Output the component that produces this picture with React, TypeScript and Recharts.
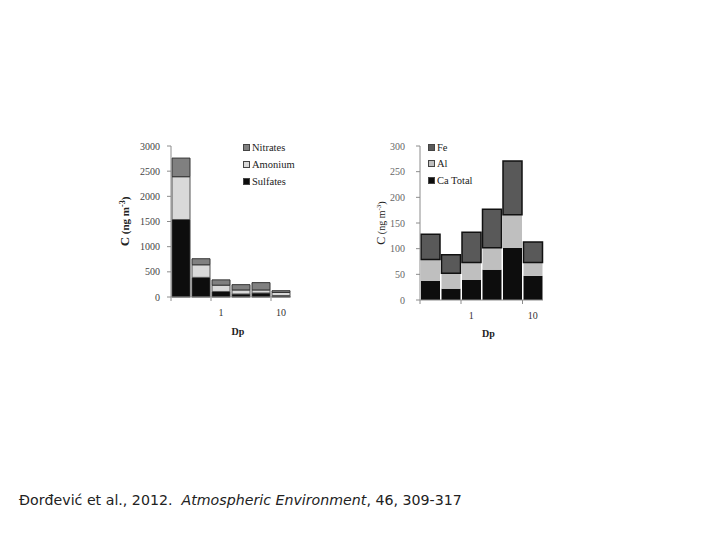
import { Bar, BarChart, XAxis, YAxis } from "recharts";

// size bins (Dp) — labels only shown at 1 and 10
const bins = ["b1", "b2", "b3", "b4", "b5", "b6"];
const binLabels = ["", "", "1", "", "", "10"];
const binMarks = [true, false, true, false, false, true];

// left panel: ions, ng m-3
const sulfates = [1540, 390, 110, 60, 80, 30];
const amonium = [850, 250, 125, 80, 60, 60];
const nitrates = [370, 120, 105, 105, 145, 35];
const ionTicks = [0, 500, 1000, 1500, 2000, 2500, 3000];

// right panel: crustal elements, ng m-3
const caTotal = [37, 22, 39, 59, 102, 47];
const al = [42, 30, 34, 43, 64, 26];
const fe = [49, 36, 59, 75, 105, 40];
const metalTicks = [0, 50, 100, 150, 200, 250, 300];

const ionData = bins.map((bin, i) => ({
  bin,
  sulfates: sulfates[i],
  amonium: amonium[i],
  nitrates: nitrates[i],
}));

const metalData = bins.map((bin, i) => ({
  bin,
  ca: caTotal[i],
  al: al[i],
  fe: fe[i],
}));

const serif = "'Liberation Serif', 'DejaVu Serif', serif";

function makeTick(halfBand: number) {
  return function BinTick(props: any) {
    const { x, y, payload } = props;
    const i = payload.index;
    return (
      <g>
        {binMarks[i] && (
          <line x1={x - halfBand} x2={x - halfBand} y1={y} y2={y + 4} stroke="#8c8c8c" />
        )}
        {binLabels[i] && (
          <text x={x} y={y + 19} textAnchor="middle" fontFamily={serif} fontSize={10} fill="#333">
            {binLabels[i]}
          </text>
        )}
      </g>
    );
  };
}

function YLabel({ viewBox, dx, bold, size }: any) {
  const cx = viewBox.x + dx;
  const cy = viewBox.y + viewBox.height / 2;
  return (
    <text
      x={cx}
      y={cy}
      transform={`rotate(-90 ${cx} ${cy})`}
      textAnchor="middle"
      fontFamily={serif}
      fontSize={size}
      fontWeight={bold ? "bold" : "normal"}
      fill="#222"
    >
      <tspan fontSize={size + 2}>C</tspan> (ng m
      <tspan fontSize={size - 3} dy={-4}>-3</tspan>
      <tspan dy={4}>)</tspan>
    </text>
  );
}

function XLabel({ viewBox, dx, dy }: any) {
  return (
    <text
      x={viewBox.x + viewBox.width / 2 + dx}
      y={viewBox.y + dy}
      textAnchor="middle"
      fontFamily={serif}
      fontSize={10}
      fontWeight="bold"
      fill="#222"
    >
      Dp
    </text>
  );
}

function LegendBox({ items, left, top, gap }: { items: { name: string; color: string }[]; left: number; top: number; gap: number }) {
  return (
    <div style={{ position: "absolute", left, top, fontFamily: serif, fontSize: 10.5, color: "#222" }}>
      {items.map((it) => (
        <div key={it.name} style={{ display: "flex", alignItems: "center", height: gap }}>
          <span
            style={{
              width: 5,
              height: 5,
              background: it.color,
              border: "1px solid #444",
              marginRight: 2,
              display: "inline-block",
            }}
          />
          {it.name}
        </div>
      ))}
    </div>
  );
}

const axisTick = { fontFamily: serif, fontSize: 10, fill: "#444" };

export default function App() {
  return (
    <div style={{ position: "absolute", left: 0, top: 0, width: 720, height: 540, background: "#fff" }}>
      <div style={{ position: "absolute", left: 110, top: 130 }}>
        <BarChart
          width={191}
          height={212}
          data={ionData}
          margin={{ top: 16, right: 10, bottom: 0, left: 0 }}
          barCategoryGap={1}
        >
          <YAxis
            width={61}
            domain={[0, 3000]}
            ticks={ionTicks}
            interval={0}
            tick={axisTick}
            tickSize={4}
            tickMargin={7}
            stroke="#8c8c8c"
            label={<YLabel dx={19} bold size={11} />}
          />
          <XAxis
            dataKey="bin"
            height={45}
            interval={0}
            tickLine={false}
            tickSize={0}
            tickMargin={0}
            stroke="#8c8c8c"
            tick={makeTick(10)}
            label={<XLabel dx={7} dy={38} />}
          />
          <Bar dataKey="sulfates" stackId="a" fill="#0d0d0d" stroke="#333" isAnimationActive={false} />
          <Bar dataKey="amonium" stackId="a" fill="#d9d9d9" stroke="#555" isAnimationActive={false} />
          <Bar dataKey="nitrates" stackId="a" fill="#808080" stroke="#333" isAnimationActive={false} />
        </BarChart>
        <LegendBox
          left={133}
          top={9}
          gap={17}
          items={[
            { name: "Nitrates", color: "#808080" },
            { name: "Amonium", color: "#d9d9d9" },
            { name: "Sulfates", color: "#0d0d0d" },
          ]}
        />
      </div>

      <div style={{ position: "absolute", left: 359, top: 130 }}>
        <BarChart
          width={194}
          height={215}
          data={metalData}
          margin={{ top: 16, right: 10, bottom: 0, left: 0 }}
          barCategoryGap={1}
        >
          <YAxis
            width={61}
            domain={[0, 300]}
            ticks={metalTicks}
            interval={0}
            tick={{ ...axisTick, fill: "#666" }}
            tickSize={4}
            tickMargin={11}
            stroke="#8c8c8c"
            label={<YLabel dx={26} size={10} />}
          />
          <XAxis
            dataKey="bin"
            height={45}
            interval={0}
            tickLine={false}
            tickSize={0}
            tickMargin={0}
            stroke="#8c8c8c"
            tick={makeTick(10.25)}
            label={<XLabel dx={7} dy={37} />}
          />
          <Bar dataKey="ca" stackId="m" fill="#0d0d0d" isAnimationActive={false} />
          <Bar dataKey="al" stackId="m" fill="#bfbfbf" isAnimationActive={false} />
          <Bar dataKey="fe" stackId="m" fill="#595959" stroke="#111" strokeWidth={1.5} isAnimationActive={false} />
        </BarChart>
        <LegendBox
          left={69}
          top={9}
          gap={16.5}
          items={[
            { name: "Fe", color: "#595959" },
            { name: "Al", color: "#bfbfbf" },
            { name: "Ca Total", color: "#0d0d0d" },
          ]}
        />
      </div>

      <div
        style={{
          position: "absolute",
          left: 19,
          top: 492,
          fontFamily: "'DejaVu Sans', Verdana, sans-serif",
          fontSize: 14.2,
          color: "#222",
          whiteSpace: "pre",
        }}
      >
        Đorđević et al., 2012.  <i>Atmospheric Environment</i>, 46, 309-317
      </div>
    </div>
  );
}
